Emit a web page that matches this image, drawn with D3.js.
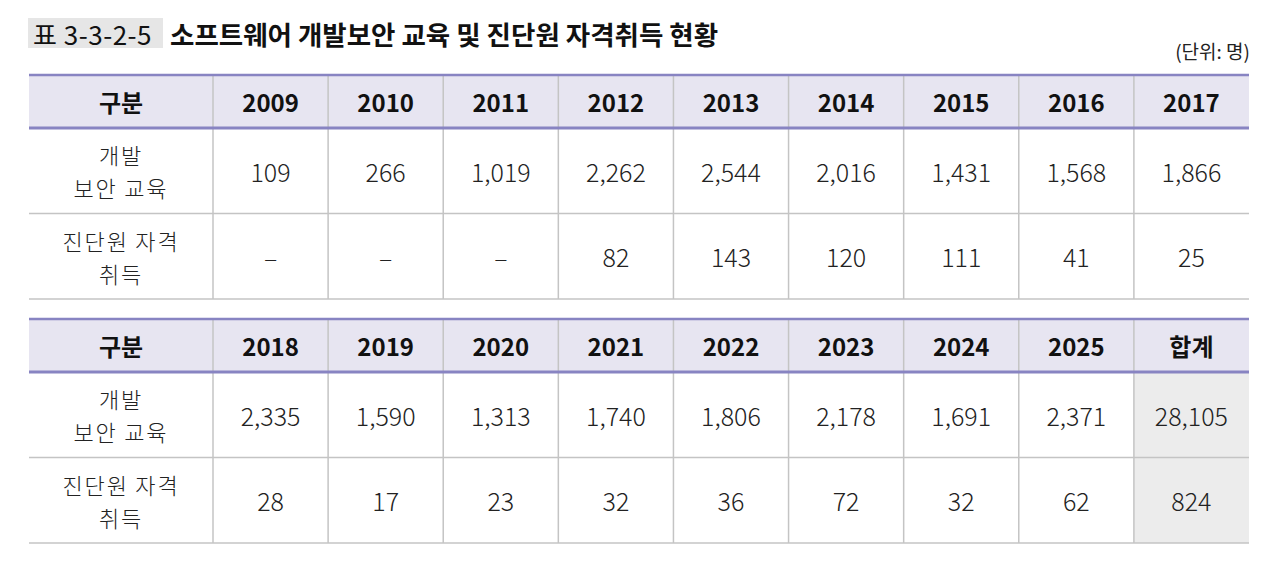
<!DOCTYPE html>
<html><head><meta charset="utf-8">
<script src="https://cdn.jsdelivr.net/npm/d3@7"></script>
<style>
html,body{margin:0;padding:0;background:#fff;}
svg{display:block;font-family:"Noto Sans CJK KR","Noto Sans",sans-serif;}
</style></head>
<body>
<svg id="chart" width="1280" height="569"></svg>
<script>
const titleLabel = "표 3-3-2-5";
const titleText = "소프트웨어 개발보안 교육 및 진단원 자격취득 현황";
const unitText = "(단위: 명)";
const headerFirst = "구분";
const rowLabels = [["개발", "보안 교육"], ["진단원 자격", "취득"]];
const years1 = ["2009","2010","2011","2012","2013","2014","2015","2016","2017"];
const edu1 = [109, 266, 1019, 2262, 2544, 2016, 1431, 1568, 1866];
const cert1 = [null, null, null, 82, 143, 120, 111, 41, 25];
const years2 = ["2018","2019","2020","2021","2022","2023","2024","2025","합계"];
const edu2 = [2335, 1590, 1313, 1740, 1806, 2178, 1691, 2371, 28105];
const cert2 = [28, 17, 23, 32, 36, 72, 32, 62, 824];

const svg = d3.select("#chart");
const fmt = d3.format(",");
const left = 29, right = 1249, firstColRight = 213;
const x = d3.scaleBand().domain(d3.range(9)).range([firstColRight, right]).padding(0);
const purple = "#8884c2", headBg = "#e7e5f1", grid = "#c4c4c4", totalBg = "#ececec";

// Title
svg.append("rect").attr("x", 28).attr("y", 18).attr("width", 135).attr("height", 30).attr("fill", "#e6e6e6");
svg.append("text").attr("x", 33).attr("y", 33).attr("dominant-baseline", "central")
  .attr("font-size", 26).attr("letter-spacing", 0.5).attr("fill", "#111").text(titleLabel);
svg.append("text").attr("x", 170).attr("y", 33).attr("dominant-baseline", "central")
  .attr("font-size", 26.5).attr("font-weight", 700).attr("fill", "#111").text(titleText);
svg.append("text").attr("x", 1250).attr("y", 50).attr("dominant-baseline", "central")
  .attr("text-anchor", "end").attr("font-size", 19).attr("fill", "#222").text(unitText);

function drawTable(top, years, edu, cert, hasTotal) {
  const g = svg.append("g");
  const headH = 54, rowH = 85.5;
  const y0 = top, y1 = top + headH, y2 = y1 + rowH, y3 = y2 + rowH;
  g.append("rect").attr("x", left).attr("y", y0).attr("width", right - left).attr("height", headH).attr("fill", headBg);
  if (hasTotal) {
    g.append("rect").attr("x", x(8)).attr("y", y1).attr("width", x.bandwidth()).attr("height", y3 - y1).attr("fill", totalBg);
  }
  g.selectAll("line.v").data(d3.range(9)).join("line")
    .attr("x1", i => x(i)).attr("x2", i => x(i)).attr("y1", y0).attr("y2", y3)
    .attr("stroke", grid).attr("stroke-width", 1.5);
  g.append("line").attr("x1", left).attr("x2", right).attr("y1", y2).attr("y2", y2).attr("stroke", grid).attr("stroke-width", 1.5);
  g.append("line").attr("x1", left).attr("x2", right).attr("y1", y3).attr("y2", y3).attr("stroke", grid).attr("stroke-width", 1.5);
  g.append("line").attr("x1", left).attr("x2", right).attr("y1", y0 + 1).attr("y2", y0 + 1).attr("stroke", purple).attr("stroke-width", 2.5);
  g.append("line").attr("x1", left).attr("x2", right).attr("y1", y1).attr("y2", y1).attr("stroke", purple).attr("stroke-width", 3);

  const cx0 = (left + firstColRight) / 2;
  g.append("text").attr("x", cx0).attr("y", (y0 + y1) / 2).attr("text-anchor", "middle")
    .attr("dominant-baseline", "central").attr("font-size", 24).attr("font-weight", 700).attr("fill", "#111").text(headerFirst);
  g.selectAll("text.h").data(years).join("text").attr("class", "h")
    .attr("x", (d, i) => x(i) + x.bandwidth() / 2).attr("y", (y0 + y1) / 2)
    .attr("text-anchor", "middle").attr("dominant-baseline", "central")
    .attr("font-size", 24).attr("font-weight", 700).attr("fill", "#111").text(d => d);
  [[y1, y2], [y2, y3]].forEach(([a, b], r) => {
    const cy = (a + b) / 2;
    rowLabels[r].forEach((line, k) => {
      g.append("text").attr("x", cx0).attr("y", cy + (k - 0.5) * 33)
        .attr("text-anchor", "middle").attr("dominant-baseline", "central")
        .attr("font-size", 22).attr("letter-spacing", 1.8).attr("font-weight", 300).attr("fill", "#222").text(line);
    });
  });
  [[edu, y1, y2], [cert, y2, y3]].forEach(([vals, a, b]) => {
    g.selectAll(null).data(vals).join("text")
      .attr("x", (d, i) => x(i) + x.bandwidth() / 2).attr("y", (a + b) / 2)
      .attr("text-anchor", "middle").attr("dominant-baseline", "central")
      .attr("font-size", 25).attr("font-weight", 300).attr("fill", "#222")
      .text(d => d == null ? "–" : fmt(d));
  });
}

drawTable(74, years1, edu1, cert1, false);
drawTable(318, years2, edu2, cert2, true);
</script>
</body></html>
